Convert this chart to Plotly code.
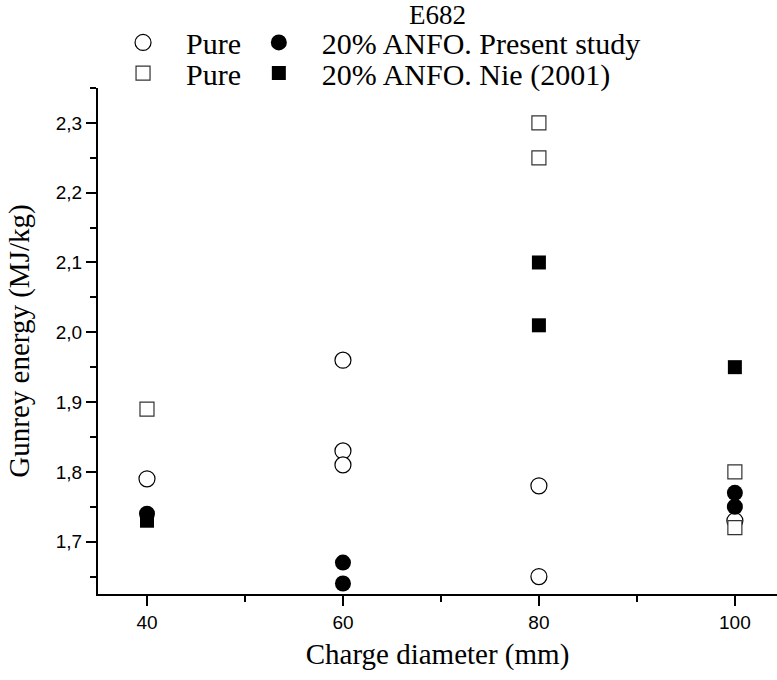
import plotly.graph_objects as go

# ---- data ----
x_pure_present = [40, 60, 60, 60, 80, 80, 100]
y_pure_present = [1.79, 1.96, 1.83, 1.81, 1.78, 1.65, 1.73]

x_anfo_present = [40, 60, 60, 100, 100]
y_anfo_present = [1.74, 1.67, 1.64, 1.77, 1.75]

x_pure_nie = [40, 80, 80, 100, 100]
y_pure_nie = [1.89, 2.30, 2.25, 1.80, 1.72]

x_anfo_nie = [40, 80, 80, 100]
y_anfo_nie = [1.73, 2.10, 2.01, 1.95]

x_ticks = [40, 60, 80, 100]
y_ticks = [1.7, 1.8, 1.9, 2.0, 2.1, 2.2, 2.3]
y_ticktext = ["1,7", "1,8", "1,9", "2,0", "2,1", "2,2", "2,3"]

title_text = "E682"
x_title = "Charge diameter (mm)"
y_title = "Gunrey energy (MJ/kg)"

SERIF = "Liberation Serif, Times New Roman, serif"
SANS = "Liberation Sans, Arial, sans-serif"

fig = go.Figure()

fig.add_trace(go.Scatter(
    x=x_pure_present, y=y_pure_present, mode="markers", name="Pure",
    marker=dict(symbol="circle", size=16, color="white",
                line=dict(color="black", width=1.2)),
    legend="legend", showlegend=True,
))
fig.add_trace(go.Scatter(
    x=x_pure_nie, y=y_pure_nie, mode="markers", name="Pure",
    marker=dict(symbol="square", size=14, color="white",
                line=dict(color="#333333", width=1.2)),
    legend="legend3", showlegend=True,
))
fig.add_trace(go.Scatter(
    x=x_anfo_present, y=y_anfo_present, mode="markers",
    name="20% ANFO. Present study",
    marker=dict(symbol="circle", size=16, color="black",
                line=dict(color="black", width=0)),
    legend="legend2", showlegend=True,
))
fig.add_trace(go.Scatter(
    x=x_anfo_nie, y=y_anfo_nie, mode="markers",
    name="20% ANFO. Nie (2001)",
    marker=dict(symbol="square", size=14, color="black",
                line=dict(color="black", width=0)),
    legend="legend4", showlegend=True,
))

leg_common = dict(
    font=dict(family=SERIF, size=30, color="black"),
    bgcolor="rgba(0,0,0,0)", borderwidth=0,
    xanchor="left", yanchor="middle", orientation="v",
    itemsizing="trace", itemwidth=76, visible=True,
)

fig.update_layout(
    width=777, height=680,
    showlegend=True,
    margin=dict(l=98, r=0, t=88, b=86),
    paper_bgcolor="white", plot_bgcolor="white",
    title=dict(text=title_text, x=0.5, xanchor="center", y=0.978, yanchor="middle",
               xref="paper", yref="container",
               font=dict(family=SERIF, size=27, color="black")),
    legend=dict(x=0.003, y=1.090, **leg_common),
    legend2=dict(x=0.203, y=1.090, **leg_common),
    legend3=dict(x=0.003, y=1.0295, **leg_common),
    legend4=dict(x=0.203, y=1.0295, **leg_common),
    xaxis=dict(
        range=[35, 104.3], tickvals=x_ticks,
        showline=True, linecolor="black", linewidth=2,
        ticks="outside", ticklen=10, tickwidth=2, tickcolor="black",
        minor=dict(dtick=10, tick0=0, ticks="outside", ticklen=6, tickwidth=2, tickcolor="black"),
        showgrid=False, zeroline=False, mirror=False,
        tickfont=dict(family=SANS, size=19, color="black"),
        title=dict(text=x_title, font=dict(family=SERIF, size=29, color="black"), standoff=12),
    ),
    yaxis=dict(
        range=[1.625, 2.35], tickvals=y_ticks, ticktext=y_ticktext,
        showline=True, linecolor="black", linewidth=2,
        ticks="outside", ticklen=10, tickwidth=2, tickcolor="black",
        minor=dict(dtick=0.05, tick0=0, ticks="outside", ticklen=6, tickwidth=2, tickcolor="black"),
        showgrid=False, zeroline=False, mirror=False,
        tickfont=dict(family=SANS, size=19, color="black"),
        title=dict(text=y_title, font=dict(family=SERIF, size=29, color="black"), standoff=18),
    ),
)

fig.write_html("out.html")
